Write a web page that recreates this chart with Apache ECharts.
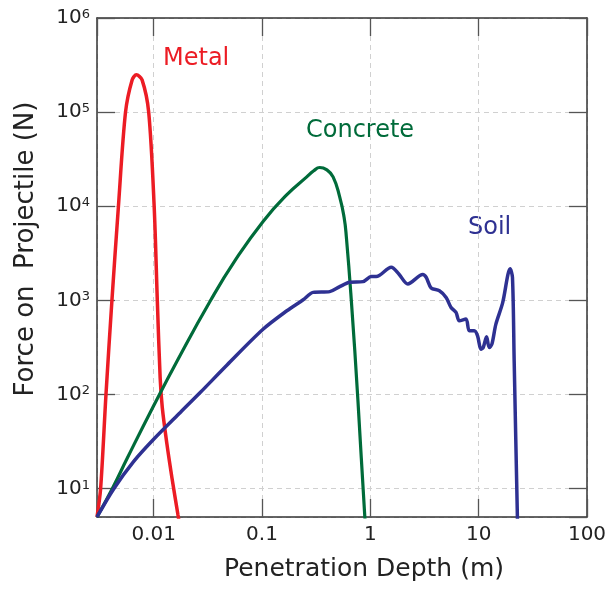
<!DOCTYPE html>
<html>
<head>
<meta charset="utf-8">
<title>Force on Projectile</title>
<script src="https://cdn.jsdelivr.net/npm/echarts@6/dist/echarts.min.js"></script>
<style>
  html, body { margin: 0; padding: 0; background: #fff; }
  #chart { width: 611px; height: 592px; }
</style>
</head>
<body>
<div id="chart"></div>
<script>
// penetration depth (m) and force (N)
const metalDepth = [0.003, 0.00324, 0.00363, 0.00412, 0.00473, 0.0055, 0.00633, 0.00693, 0.00782, 0.009, 0.01011, 0.01081, 0.01148, 0.01202, 0.01328, 0.01476, 0.01676, 0.01778];
const metalForce = [5, 10, 100, 1000, 10000, 100000, 220000, 249000, 220000, 100000, 10000, 1000, 151, 72.3, 29.4, 13, 5.28, 3.5];

const concreteDepth = [0.003, 0.00417, 0.00573, 0.01, 0.01652, 0.0333, 0.0565, 0.1028, 0.1698, 0.259, 0.3004, 0.341, 0.394, 0.453, 0.522, 0.572, 0.601, 0.668, 0.769, 0.887, 0.918];
const concreteForce = [5, 10.1, 21.3, 76, 229, 986, 2660, 6950, 13300, 20500, 23800, 25800, 24500, 20500, 12500, 7670, 4700, 993, 85, 5.3, 3.5];

const soilDepth = [0.003, 0.00429, 0.00655, 0.01, 0.01763, 0.0269, 0.0476, 0.1028, 0.1698, 0.24, 0.2965, 0.422, 0.522, 0.6452, 0.855, 1.021, 1.135, 1.56, 1.833, 2.218, 3.048, 3.275, 3.641, 4.342, 5.005, 5.561, 6.18, 6.63, 7.64, 8.19, 9.11, 9.77, 10.5, 11.02, 11.83, 12.52, 13.25, 14.42, 16.6, 19.54, 20.51, 21.27, 22.8, 23.0];
const soilForce = [5, 10, 19.5, 33.5, 64.6, 105, 206, 496, 776, 1016, 1217, 1240, 1400, 1556, 1582, 1790, 1790, 2250, 1910, 1495, 1880, 1760, 1355, 1268, 1076, 842, 745, 608, 634, 475, 475, 420, 303, 316, 410, 316, 343, 560, 929, 2163, 1760, 228, 4.79, 3.5];

const xTicks = [0.01, 0.1, 1, 10, 100];
const yTicks = [10, 100, 1000, 10000, 100000, 1000000];

const zip = (xs, ys) => xs.map((x, i) => [x, ys[i]]);
const font = '"DejaVu Sans", Verdana, sans-serif';

const chart = echarts.init(document.getElementById('chart'));

const isTick = (v, list) => list.some(t => Math.abs(v / t - 1) < 1e-6);

const tickStyle = { inside: true, length: 18, lineStyle: { color: '#555', width: 1.3 } };
const axisLine = { lineStyle: { color: '#333', width: 1.5 } };
const gridLine = { show: true, lineStyle: { color: '#d0d0d0', type: [5, 4], width: 1 } };

const option = {
    animation: false,
    backgroundColor: '#fff',
    grid: { left: 97, right: 24, top: 18, bottom: 75 },
    xAxis: [
        {
            type: 'log',
            min: 0.003,
            max: 100,
            name: 'Penetration Depth (m)',
            nameLocation: 'middle',
            nameGap: 40,
            nameTextStyle: { fontFamily: font, fontSize: 25, color: '#222', padding: [0, 0, 0, 44] },
            axisLine: axisLine,
            axisTick: tickStyle,
            splitLine: gridLine,
            axisLabel: {
                showMinLabel: false,
                margin: 8,
                fontFamily: font,
                fontSize: 20,
                color: '#222',
                formatter: v => isTick(v, xTicks) ? String(v) : ''
            }
        },
        {
            type: 'log',
            position: 'top',
            min: 0.003,
            max: 100,
            axisLine: axisLine,
            axisTick: tickStyle,
            axisLabel: { show: false },
            splitLine: { show: false }
        }
    ],
    yAxis: [
        {
            type: 'log',
            min: 5,
            max: 1000000,
            name: 'Force on  Projectile (N)',
            nameLocation: 'middle',
            nameGap: 58,
            nameTextStyle: { fontFamily: font, fontSize: 26, color: '#222', padding: [0, 0, 0, 37] },
            axisLine: axisLine,
            axisTick: tickStyle,
            splitLine: gridLine,
            axisLabel: {
                showMinLabel: false,
                margin: 7,
                formatter: v => isTick(v, yTicks) ? '{b|10}{e|' + Math.round(Math.log10(v)) + '}' : '',
                rich: {
                    b: { fontFamily: font, fontSize: 20, lineHeight: 20, color: '#222' },
                    e: { fontFamily: font, fontSize: 13, lineHeight: 13, color: '#222', verticalAlign: 'top' }
                }
            }
        },
        {
            type: 'log',
            position: 'right',
            min: 5,
            max: 1000000,
            axisLine: axisLine,
            axisTick: tickStyle,
            axisLabel: { show: false },
            splitLine: { show: false }
        }
    ],
    series: [
        {
            name: 'Metal',
            type: 'line',
            data: zip(metalDepth, metalForce),
            smooth: 0.3,
            showSymbol: false,
            lineStyle: { color: '#ec1c24', width: 3.5 }
        },
        {
            name: 'Concrete',
            type: 'line',
            data: zip(concreteDepth, concreteForce),
            smooth: 0.5,
            showSymbol: false,
            lineStyle: { color: '#006b3a', width: 3.2 }
        },
        {
            name: 'Soil',
            type: 'line',
            data: zip(soilDepth, soilForce),
            smooth: 0.3,
            showSymbol: false,
            lineStyle: { color: '#2e3192', width: 3.5 }
        }
    ],
    graphic: [
        { type: 'text', style: { x: 163, y: 58.5, text: 'Metal', fill: '#ec1c24', font: '24px ' + font, textAlign: 'left', textVerticalAlign: 'middle' } },
        { type: 'text', style: { x: 306, y: 130.5, text: 'Concrete', fill: '#006b3a', font: '24px ' + font, textAlign: 'left', textVerticalAlign: 'middle' } },
        { type: 'text', style: { x: 468, y: 227.5, text: 'Soil', fill: '#2e3192', font: '24px ' + font, textAlign: 'left', textVerticalAlign: 'middle' } }
    ]
};
chart.setOption(option);

window.addEventListener('resize', function () {
    chart.resize();
});
</script>
</body>
</html>
